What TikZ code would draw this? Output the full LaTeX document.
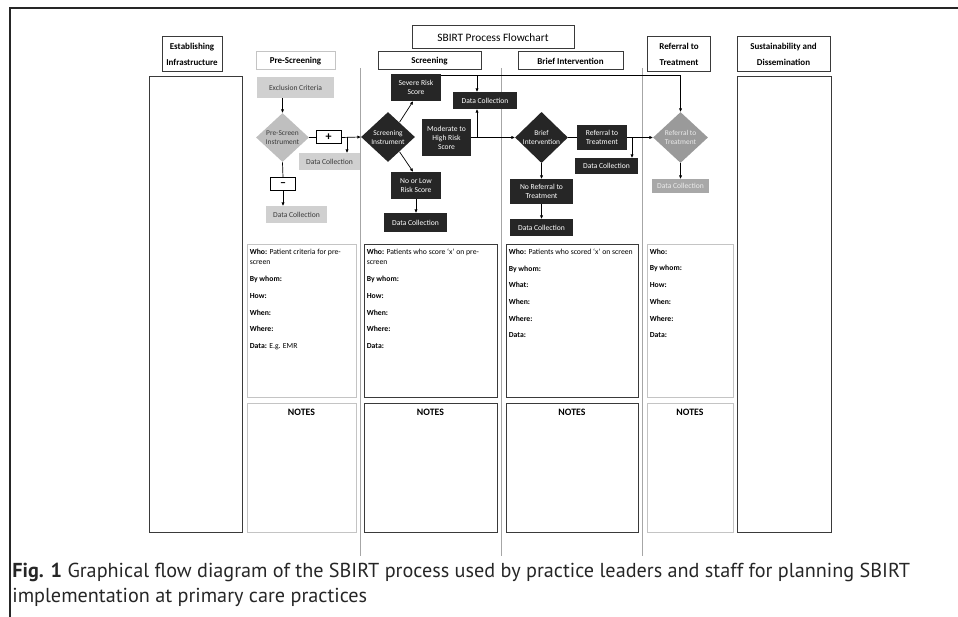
\documentclass[tikz,border=0pt]{standalone}
\usepackage{fontspec}
\setmainfont{Carlito}
\newfontfamily\capfont{PT Sans}
\usetikzlibrary{shapes.geometric,arrows.meta,calc}
\definecolor{boxblack}{HTML}{262626}
\definecolor{boxline}{HTML}{3A3A3A}
\definecolor{lightline}{HTML}{C4C4C4}
\definecolor{paleg}{HTML}{D0D0D0}
\definecolor{midg}{HTML}{9A9A9A}
\definecolor{dcg}{HTML}{A8A8A8}
\begin{document}
\begin{tikzpicture}[x=1pt,y=-1pt,>={Triangle[length=3.2pt,width=2.8pt]},line width=0.7pt]
  \tikzstyle{head}=[draw=boxline,line width=1pt,inner sep=1pt,align=center,
    font=\fontsize{9}{16}\selectfont\bfseries]
  \tikzstyle{column}=[draw=boxline,line width=1pt,inner sep=0pt]
  \tikzstyle{lightcol}=[draw=lightline,line width=1pt,inner sep=0pt]
  \tikzstyle{darkbox}=[fill=boxblack,text=white,inner sep=1pt,align=center,
    font=\fontsize{7.6}{9}\selectfont]
  \tikzstyle{graybox}=[fill=paleg,text=boxline,inner sep=1pt,align=center,
    font=\fontsize{7.6}{9}\selectfont]
  \tikzstyle{darkdiam}=[diamond,fill=boxblack,text=white,inner sep=0pt,align=center,
    font=\fontsize{7.4}{9}\selectfont]
  \tikzstyle{signbox}=[draw=black,line width=1pt,inner sep=0pt,minimum width=25pt,
    minimum height=13pt,font=\fontsize{12}{12}\selectfont\bfseries]
  \tikzstyle{whotext}=[anchor=north west,inner sep=0pt,align=left,
    font=\fontsize{7.7}{10.2}\selectfont]
  \tikzstyle{notes}=[anchor=north,inner sep=0pt,font=\fontsize{9.8}{11}\selectfont\bfseries]
  \tikzstyle{divider}=[draw=gray!70,line width=0.6pt]
  \useasboundingbox (0,0) rectangle (958,617);

  % frame of the figure
  \draw[line width=1.6pt,black!85] (9,8) -- (958,8);
  \draw[line width=1.2pt,black!85] (10,8) -- (10,617);

  % dividers between the stages
  \draw[divider] (360,68) -- (360,556);
  \draw[divider] (501,68) -- (501,556);
  \draw[divider] (642,68) -- (642,556);

  % headers
  \node[head,minimum width=162pt,minimum height=23pt,font=\fontsize{11.3}{13}\selectfont] (title) at (493,37.5)
        {SBIRT Process Flowchart};
  \node[head,minimum width=60pt,minimum height=35pt] (EI_head) at (192,54.5) {Establishing\\Infrastructure};
  \node[head,draw=lightline,minimum width=79pt,minimum height=18pt] (PS_head) at (295.5,61) {Pre-Screening};
  \node[head,minimum width=103pt,minimum height=18pt] (S_head) at (429.5,61) {Screening};
  \node[head,minimum width=105pt,minimum height=18pt] (BI_head) at (570.5,61) {Brief Intervention};
  \node[head,minimum width=63pt,minimum height=35pt] (RT_head) at (679,54.5) {Referral to\\Treatment};
  \node[head,minimum width=93pt,minimum height=35pt] (SD_head) at (783.5,54.5) {Sustainability and\\Dissemination};

  % outer columns
  \node[column,minimum width=93pt,minimum height=455pt] (EI_col) at (195.5,304.5) {};
  \node[column,minimum width=94pt,minimum height=455pt] (SD_col) at (784,304.5) {};

  % who / notes boxes
  \node[lightcol,minimum width=109pt,minimum height=152pt] (PS_who) at (301.5,321) {};
  \node[column,minimum width=133pt,minimum height=152pt] (S_who) at (430.5,321) {};
  \node[column,minimum width=132pt,minimum height=152pt] (BI_who) at (572,321) {};
  \node[lightcol,minimum width=86pt,minimum height=152pt] (RT_who) at (690,321) {};
  \node[lightcol,minimum width=109pt,minimum height=129pt] (PS_notes) at (301.5,467.5) {};
  \node[column,minimum width=133pt,minimum height=129pt] (S_notes) at (430.5,467.5) {};
  \node[column,minimum width=132pt,minimum height=129pt] (BI_notes) at (572,467.5) {};
  \node[lightcol,minimum width=86pt,minimum height=129pt] (RT_notes) at (690,467.5) {};
  \foreach \col in {PS,S,BI,RT}
    \node[notes] at ([yshift=-6pt]\col_notes.north) {NOTES};

  \node[whotext] (PS_whotxt) at ([shift={(3pt,-4pt)}]PS_who.north west)
        {\textbf{Who:} Patient criteria for pre-\\screen\\[7pt]\textbf{By whom:}\\[6.5pt]\textbf{How:}\\[6.5pt]
         \textbf{When:}\\[6.5pt]\textbf{Where:}\\[6.5pt]\textbf{Data:} E.g. EMR};
  \node[whotext] (S_whotxt) at ([shift={(3pt,-4pt)}]S_who.north west)
        {\textbf{Who:} Patients who score `x' on pre-\\screen\\[7pt]\textbf{By whom:}\\[6.5pt]\textbf{How:}\\[6.5pt]
         \textbf{When:}\\[6.5pt]\textbf{Where:}\\[6.5pt]\textbf{Data:}};
  \node[whotext] (BI_whotxt) at ([shift={(3pt,-4pt)}]BI_who.north west)
        {\textbf{Who:} Patients who scored `x' on screen\\[6.5pt]\textbf{By whom:}\\[6.5pt]\textbf{What:}\\[6.5pt]
         \textbf{When:}\\[6.5pt]\textbf{Where:}\\[6.5pt]\textbf{Data:}};
  \node[whotext] (RT_whotxt) at ([shift={(3pt,-4pt)}]RT_who.north west)
        {\textbf{Who:}\\[6.5pt]\textbf{By whom:}\\[6.5pt]\textbf{How:}\\[6.5pt]
         \textbf{When:}\\[6.5pt]\textbf{Where:}\\[6.5pt]\textbf{Data:}};

  % pre-screening
  \node[graybox,minimum width=77pt,minimum height=21pt] (PS_excl) at (295.5,87.5) {Exclusion Criteria};
  \node[darkdiam,fill=paleg!92!black,text=boxline,minimum width=53pt,minimum height=49pt] (PS_diam) at (282.5,137.5)
        {Pre-Screen\\Instrument};
  \node[signbox] (PS_plus) at (328.5,137.5) {+};
  \node[graybox,minimum width=61pt,minimum height=17pt] (PS_dc1) at (329.5,161.5) {Data Collection};
  \node[signbox] (PS_minus) at (283,184.5) {\textbf{\textendash}};
  \node[graybox,minimum width=61pt,minimum height=17pt] (PS_dc2) at (296.5,214.5) {Data Collection};

  % screening
  \node[darkdiam,minimum width=54pt,minimum height=50pt] (S_diam) at (388,137) {Screening\\Instrument};
  \node[darkbox,minimum width=50pt,minimum height=27pt] (S_severe) at (416,87.5) {Severe Risk\\Score};
  \node[darkbox,minimum width=49pt,minimum height=37pt] (S_mod) at (446.5,137.5) {Moderate to\\High Risk\\Score};
  \node[darkbox,minimum width=50pt,minimum height=27pt] (S_low) at (416,185.5) {No or Low\\Risk Score};
  \node[darkbox,minimum width=63pt,minimum height=19pt] (S_dc1) at (415.5,222.5) {Data Collection};
  \node[darkbox,minimum width=64pt,minimum height=17pt] (S_dc2) at (485,100.5) {Data Collection};

  % brief intervention
  \node[darkdiam,minimum width=53pt,minimum height=51pt] (BI_diam) at (541.5,137.5) {Brief\\Intervention};
  \node[darkbox,minimum width=50pt,minimum height=25pt] (BI_ref) at (602,137.5) {Referral to\\Treatment};
  \node[darkbox,minimum width=63pt,minimum height=16pt] (BI_dc1) at (606.5,166) {Data Collection};
  \node[darkbox,minimum width=63pt,minimum height=25pt] (BI_noref) at (541.5,191.5) {No Referral to\\Treatment};
  \node[darkbox,minimum width=63pt,minimum height=17pt] (BI_dc2) at (541.5,227.5) {Data Collection};

  % referral to treatment
  \node[darkdiam,fill=midg,text=white!92!black,minimum width=55pt,minimum height=51pt] (RT_diam) at (680.5,137.5)
        {Referral to\\Treatment};
  \node[darkbox,fill=dcg,text=white!92!black,minimum width=57pt,minimum height=14pt] (RT_dc) at (680.5,186)
        {Data Collection};

  % connectors
  \draw[->] (PS_diam.north |- PS_excl.south) -- (PS_diam.north);
  \draw (PS_diam.east) -- (PS_plus.west);
  \draw[->] (PS_plus.east) -- (S_diam.west);
  \coordinate (PS_br) at (347,137.5);
  \draw[->] (PS_br) -- (PS_br |- PS_dc1.north);
  \draw (PS_diam.south) -- (PS_minus.north);
  \draw[->] (PS_minus.south) -- (PS_minus.south |- PS_dc2.north);

  \draw[->] ($(S_diam.north)!0.42!(S_diam.east)$) -- ([xshift=-3pt]S_severe.south);
  \draw[->] ($(S_diam.south)!0.42!(S_diam.east)$) -- ([xshift=-3pt]S_low.north);
  \draw[->] (S_low.south) -- (S_low.south |- S_dc1.north);
  \draw[->] (S_mod.east) -- (BI_diam.west);
  \coordinate (S_br) at (477,137.5);
  \draw[->] (S_br) -- (S_br |- S_dc2.south);
  \coordinate (S_top) at (477,76);
  \draw[->] (S_top) -- (S_top |- S_dc2.north);
  \draw[->] ([yshift=-2pt]S_severe.north east) -| (RT_diam.north);

  \draw (BI_diam.east) -- (BI_ref.west);
  \draw[->] (BI_ref.east) -- (RT_diam.west);
  \coordinate (BI_br) at (632,137.5);
  \draw[->] (BI_br) -- (BI_br |- BI_dc1.north);
  \draw[->] (BI_diam.south) -- (BI_noref.north);
  \draw[->] (BI_noref.south) -- (BI_dc2.north);
  \draw[->] (RT_diam.south) -- (RT_dc.north);

  % caption
  \node[anchor=west,inner sep=0pt,font=\capfont\fontsize{20.2}{24}\selectfont,text=black!85] (cap1) at (12,572)
        {\textbf{Fig. 1} Graphical flow diagram of the SBIRT process used by practice leaders and staff for planning SBIRT};
  \node[anchor=west,inner sep=0pt,font=\capfont\fontsize{20.2}{24}\selectfont,text=black!85] (cap2) at (12,597)
        {implementation at primary care practices};
\end{tikzpicture}
\end{document}
